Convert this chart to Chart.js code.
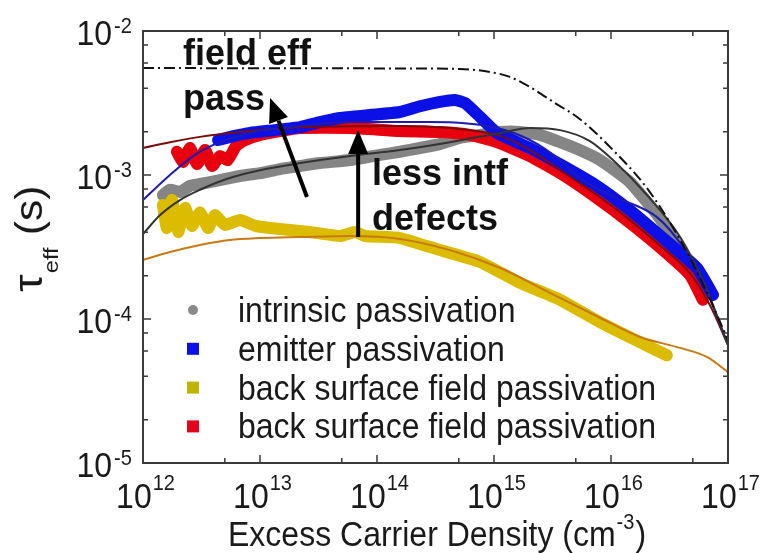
<!DOCTYPE html>
<html>
<head>
<meta charset="utf-8">
<script src="https://cdn.jsdelivr.net/npm/chart.js@4.4.0/dist/chart.umd.min.js"></script>
<style>
  html, body { margin: 0; padding: 0; background: #fff; }
</style>
</head>
<body>
<canvas id="tauChart" width="761" height="553"></canvas>
<script>
// --- data (excess carrier density in cm^-3, lifetime in s) ---
const intrinsicN   = [1.48e12, 1.7e12, 2.07e12, 2.52e12, 3.07e12, 4.55e12, 6.75e12, 1.0e13, 1.48e13, 2.2e13, 3.25e13, 5.9e13, 1.06e14, 1.57e14, 2.33e14, 3.45e14, 5.1e14, 7.6e14, 1.13e15, 1.67e15, 2.47e15, 3.67e15, 5.4e15, 8.05e15, 1.45e16, 2.62e16, 3.9e16, 4.73e16];
const intrinsicTau = [7.26e-4, 7.9e-4, 7.62e-4, 8.4e-4, 8.66e-4, 9.2e-4, 9.84e-4, 1.03e-3, 1.1e-3, 1.155e-3, 1.21e-3, 1.27e-3, 1.38e-3, 1.45e-3, 1.54e-3, 1.64e-3, 1.81e-3, 1.9e-3, 1.99e-3, 1.99e-3, 1.9e-3, 1.69e-3, 1.49e-3, 1.27e-3, 8.93e-4, 5.0e-4, 3.0e-4, 2.12e-4];
const intrinsicFitN   = [1e12, 1.4e12, 2.07e12, 3.07e12, 5.5e12, 1e13, 2.2e13, 5.9e13, 1.57e14, 4.2e14, 1.13e15, 2.03e15, 3.67e15, 6.6e15, 1.04e16, 2.03e16, 3.9e16, 6.35e16, 1e17];
const intrinsicFitTau = [3.89e-4, 5.27e-4, 6.7e-4, 7.9e-4, 9.53e-4, 1.08e-3, 1.21e-3, 1.355e-3, 1.49e-3, 1.69e-3, 1.96e-3, 2.12e-3, 2.05e-3, 1.72e-3, 1.27e-3, 7.26e-4, 3.71e-4, 1.72e-4, 6.6e-5];

const emitterN   = [4.38e12, 6.1e12, 8.2e12, 1.34e13, 2.2e13, 3.25e13, 4.83e13, 8.7e13, 1.57e14, 2.33e14, 3.45e14, 4.64e14, 5.65e14, 7.6e14, 1.06e15, 2.03e15, 3.9e15, 7.6e15, 1.45e16, 2.78e16, 5.43e16, 7.45e16];
const emitterTau = [1.75e-3, 1.87e-3, 1.96e-3, 2.05e-3, 2.15e-3, 2.33e-3, 2.49e-3, 2.61e-3, 2.74e-3, 3.0e-3, 3.22e-3, 3.32e-3, 3.16e-3, 2.53e-3, 1.96e-3, 1.54e-3, 1.155e-3, 8.4e-4, 5.7e-4, 3.65e-4, 2.26e-4, 1.47e-4];
const emitterFitN   = [1e12, 1.7e12, 2.78e12, 4.38e12, 8.2e12, 2.2e13, 5.9e13, 2.84e14, 1.06e15, 2.03e15, 3.67e15, 5.4e15, 9.8e15, 2.47e16, 3.9e16, 5.76e16, 1e17];
const emitterFitTau = [6.7e-4, 1.0e-3, 1.38e-3, 1.67e-3, 1.96e-3, 2.19e-3, 2.33e-3, 2.33e-3, 2.12e-3, 1.75e-3, 1.27e-3, 9.53e-4, 7.26e-4, 5.1e-4, 3.37e-4, 2.02e-4, 6.6e-5];

const bsfGoldN   = [1.48e12, 1.6e12, 1.77e12, 2.0e12, 2.29e12, 2.62e12, 3.07e12, 3.6e12, 4.12e12, 5.0e12, 6.75e12, 9.1e12, 1.22e13, 1.8e13, 2.67e13, 4.83e13, 6.5e13, 7.9e13, 1.57e14, 3.45e14, 7.6e14, 1.67e15, 3.67e15, 8.05e15, 1.77e16, 3.0e16];
const bsfGoldTau = [6.2e-4, 4.28e-4, 6.7e-4, 4.02e-4, 5.9e-4, 4.43e-4, 5.5e-4, 4.28e-4, 5.27e-4, 4.5e-4, 4.87e-4, 4.43e-4, 4.28e-4, 4.15e-4, 4.02e-4, 3.77e-4, 4.02e-4, 3.77e-4, 3.65e-4, 3.01e-4, 2.49e-4, 1.78e-4, 1.36e-4, 9.5e-5, 6.9e-5, 5.6e-5];
const bsfGoldFitN   = [1e12, 1.7e12, 3.07e12, 5.5e12, 1e13, 2.2e13, 5.9e13, 1.57e14, 4.2e14, 1.13e15, 3.0e15, 8.05e15, 1.77e16, 3.9e16, 6.6e16, 1e17];
const bsfGoldFitTau = [2.57e-4, 2.92e-4, 3.27e-4, 3.54e-4, 3.65e-4, 3.71e-4, 3.77e-4, 3.6e-4, 3.01e-4, 2.26e-4, 1.52e-4, 1.02e-4, 7.5e-5, 6.3e-5, 5.45e-5, 4.28e-5];

const bsfRedN   = [1.95e12, 2.2e12, 2.52e12, 2.9e12, 3.39e12, 3.89e12, 4.55e12, 5.3e12, 6.24e12, 7.45e12, 1e13, 1.48e13, 2.2e13, 5.9e13, 1.57e14, 3.45e14, 6.2e14, 1.06e15, 2.03e15, 3.9e15, 7.6e15, 1.45e16, 2.78e16, 4.73e16, 6.1e16];
const bsfRedTau = [1.45e-3, 1.23e-3, 1.54e-3, 1.19e-3, 1.49e-3, 1.155e-3, 1.355e-3, 1.27e-3, 1.59e-3, 1.75e-3, 1.9e-3, 2.02e-3, 2.12e-3, 2.12e-3, 2.02e-3, 1.99e-3, 1.9e-3, 1.69e-3, 1.355e-3, 1.0e-3, 6.9e-4, 4.65e-4, 3.01e-4, 2.02e-4, 1.36e-4];
const bsfRedFitN   = [1e12, 1.7e12, 3.07e12, 6.75e12, 2.2e13, 1.57e14, 4.2e14, 1.13e15, 2.03e15, 3.9e15, 7.6e15, 1.45e16, 2.78e16, 4.73e16, 7.0e16, 1e17];
const bsfRedFitTau = [1.54e-3, 1.69e-3, 1.84e-3, 1.99e-3, 2.15e-3, 2.19e-3, 2.12e-3, 1.87e-3, 1.49e-3, 1.05e-3, 7.26e-4, 4.87e-4, 3.11e-4, 2.08e-4, 1.25e-4, 6.6e-5];

const fieldEffN   = [1e12, 1e14, 5.1e14, 9.25e14, 1.37e15, 2.03e15, 3.32e15, 5.4e15, 1.04e16, 2.03e16, 3.9e16, 6.35e16, 1e17];
const fieldEffTau = [5.53e-3, 5.5e-3, 5.45e-3, 5.19e-3, 4.8e-3, 4.08e-3, 3.16e-3, 2.45e-3, 1.49e-3, 8.1e-4, 3.54e-4, 1.64e-4, 7.15e-5];

const seriesLabels = ['intrinsic passivation', 'emitter passivation', 'back surface field passivation', 'back surface field passivation'];

// axis ticks
const xDecades = [1e12, 1e13, 1e14, 1e15, 1e16, 1e17];
const xDecadeLabels = ['12', '13', '14', '15', '16', '17'];
const xMinor = [5e12, 5e13, 5e14, 5e15, 5e16];
const yDecades = [1e-5, 1e-4, 1e-3, 1e-2];
const yDecadeLabels = ['-5', '-4', '-3', '-2'];
const yMinor = [2e-5, 4e-5, 6e-5, 8e-5, 2e-4, 4e-4, 6e-4, 8e-4, 2e-3, 4e-3, 6e-3, 8e-3];

// annotations (data coordinates)
const noteText = ['field eff', 'pass', 'less intf', 'defects'];
const noteN    = [2.2e12, 2.2e12, 9.06e13, 9.06e13];
const noteTau  = [5.8e-3, 2.82e-3, 8.53e-4, 4.15e-4];
const arrowFromN = [2.52e13, 6.9e13];
const arrowFromTau = [7.03e-4, 3.71e-4];
const arrowToN = [1.22e13, 6.9e13];
const arrowToTau = [3.42e-3, 2.05e-3];

const FONT = '"Liberation Sans", Arial, sans-serif';
const STRETCH = 1.12;

function pts(xs, ys) {
    return xs.map((x, i) => ({ x: x, y: ys[i] }));
}

function band(label, xs, ys, color, order) {
    return { label: label, data: pts(xs, ys), showLine: true, borderColor: color, backgroundColor: color,
             borderWidth: 12, borderCapStyle: 'round', borderJoinStyle: 'round', pointRadius: 0, tension: 0.15, order: order };
}

function fitLine(xs, ys, color, order) {
    return { label: '', data: pts(xs, ys), showLine: true, borderColor: color, borderWidth: 2,
             pointRadius: 0, cubicInterpolationMode: 'monotone', order: order };
}

function txt(ctx, s, x, y, font, align, sy) {
    ctx.save();
    ctx.translate(x, y);
    ctx.scale(1, sy || STRETCH);
    ctx.font = font;
    ctx.textAlign = align || 'left';
    ctx.textBaseline = 'alphabetic';
    ctx.fillText(s, 0, 0);
    ctx.restore();
}

const legendColors = ['#8a8a8a', '#0a10e6', '#bfb400', '#e6001c'];

const decorPlugin = {
    id: 'decor',
    afterDatasetsDraw(chart) {
        const ctx = chart.ctx, xs = chart.scales.x, ys = chart.scales.y;
        ctx.save();
        // arrows
        ctx.fillStyle = '#000';
        ctx.strokeStyle = '#000';
        ctx.lineWidth = 4;
        for (let i = 0; i < arrowFromN.length; i++) {
            const x0 = xs.getPixelForValue(arrowFromN[i]), y0 = ys.getPixelForValue(arrowFromTau[i]);
            const x1 = xs.getPixelForValue(arrowToN[i]), y1 = ys.getPixelForValue(arrowToTau[i]);
            const ang = Math.atan2(y1 - y0, x1 - x0);
            const hl = 24, hw = 10;
            const bx = x1 - hl * Math.cos(ang), by = y1 - hl * Math.sin(ang);
            ctx.beginPath();
            ctx.moveTo(x0, y0);
            ctx.lineTo(bx, by);
            ctx.stroke();
            ctx.beginPath();
            ctx.moveTo(x1, y1);
            ctx.lineTo(bx + hw * Math.sin(ang), by - hw * Math.cos(ang));
            ctx.lineTo(bx - hw * Math.sin(ang), by + hw * Math.cos(ang));
            ctx.closePath();
            ctx.fill();
        }
        // bold notes
        ctx.fillStyle = '#111';
        noteText.forEach((t, i) => {
            txt(ctx, t, xs.getPixelForValue(noteN[i]), ys.getPixelForValue(noteTau[i]), 'bold 36px ' + FONT, 'left', 1.05);
        });
        // legend
        const lx = 193, ly = 310, gap = 38.8;
        seriesLabels.forEach((lab, i) => {
            const cy = ly + i * gap;
            ctx.fillStyle = legendColors[i];
            if (i === 0) {
                ctx.beginPath();
                ctx.arc(lx, cy, 5, 0, Math.PI * 2);
                ctx.fill();
            } else {
                ctx.fillRect(lx - 6, cy - 6, 12, 12);
            }
            ctx.fillStyle = '#1a1a1a';
            txt(ctx, lab, 238, cy + 12, '32px ' + FONT, 'left');
        });
        ctx.restore();
    },
    afterDraw(chart) {
        const ctx = chart.ctx, xs = chart.scales.x, ys = chart.scales.y, a = chart.chartArea;
        ctx.save();
        ctx.strokeStyle = '#3a3a3a';
        ctx.lineWidth = 2;
        ctx.strokeRect(a.left, a.top, a.right - a.left, a.bottom - a.top);
        ctx.lineWidth = 1.5;
        const tick = (vals, len, horiz) => {
            vals.forEach(v => {
                ctx.beginPath();
                if (horiz) {
                    const px = xs.getPixelForValue(v);
                    if (px <= a.left + 1 || px >= a.right - 1) return;
                    ctx.moveTo(px, a.bottom); ctx.lineTo(px, a.bottom - len);
                    ctx.moveTo(px, a.top); ctx.lineTo(px, a.top + len);
                } else {
                    const py = ys.getPixelForValue(v);
                    if (py <= a.top + 1 || py >= a.bottom - 1) return;
                    ctx.moveTo(a.left, py); ctx.lineTo(a.left + len, py);
                    ctx.moveTo(a.right, py); ctx.lineTo(a.right - len, py);
                }
                ctx.stroke();
            });
        };
        tick(xDecades, 8, true);
        tick(xMinor, 5, true);
        tick(yDecades, 8, false);
        tick(yMinor, 5, false);

        ctx.fillStyle = '#1a1a1a';
        const big = '32px ' + FONT, small = '20px ' + FONT;
        // x tick labels
        xDecades.forEach((v, i) => {
            const px = xs.getPixelForValue(v);
            ctx.font = big;
            const w1 = ctx.measureText('10').width;
            ctx.font = small;
            const w2 = ctx.measureText(xDecadeLabels[i]).width;
            const x0 = px - (w1 + w2) / 2 + 2;
            txt(ctx, '10', x0, a.bottom + 45, big);
            txt(ctx, xDecadeLabels[i], x0 + w1 + 1, a.bottom + 27, small);
        });
        // y tick labels
        yDecades.forEach((v, i) => {
            const py = ys.getPixelForValue(v);
            txt(ctx, '10', 112, py + 14, big, 'right');
            txt(ctx, yDecadeLabels[i], 114, py + 2, small);
        });
        // x title
        ctx.font = big;
        const xt = 'Excess Carrier Density (cm';
        const wt = ctx.measureText(xt).width;
        txt(ctx, xt, 228, 546, big);
        ctx.font = small;
        const ws = ctx.measureText('-3').width;
        txt(ctx, '-3', 228 + wt + 1, 529, small);
        txt(ctx, ')', 228 + wt + ws + 2, 546, big);
        // y title
        ctx.save();
        ctx.translate(42, 292);
        ctx.rotate(-Math.PI / 2);
        ctx.scale(STRETCH, 1);
        ctx.font = '40px ' + FONT;
        ctx.fillText('\u03c4', 0, 0);
        const wtau = ctx.measureText('\u03c4').width;
        ctx.font = '21px ' + FONT;
        ctx.fillText('eff', wtau + 1, 16);
        const weff = ctx.measureText('eff').width;
        ctx.font = '38px ' + FONT;
        ctx.fillText('(s)', wtau + weff + 12, 0);
        ctx.restore();
        ctx.restore();
    }
};

const ctx = document.getElementById('tauChart').getContext('2d');
const chart = new Chart(ctx, {
    type: 'scatter',
    data: {
        datasets: [
            { label: 'field eff', data: pts(fieldEffN, fieldEffTau), showLine: true, borderColor: '#111', borderWidth: 2,
              borderDash: [11, 4, 2, 4], pointRadius: 0, cubicInterpolationMode: 'monotone', order: 0 },
            fitLine(intrinsicFitN, intrinsicFitTau, '#333333', 1),
            fitLine(emitterFitN, emitterFitTau, '#1c1cb4', 1),
            fitLine(bsfRedFitN, bsfRedFitTau, '#7a0c0c', 1),
            fitLine(bsfGoldFitN, bsfGoldFitTau, '#c77a12', 1),
            band(seriesLabels[1], emitterN, emitterTau, '#0a10e6', 5),
            band(seriesLabels[3], bsfRedN, bsfRedTau, '#e8000e', 6),
            band(seriesLabels[2], bsfGoldN, bsfGoldTau, '#dcbc00', 7),
            band(seriesLabels[0], intrinsicN, intrinsicTau, '#858585', 8)
        ]
    },
    options: {
        responsive: false,
        animation: false,
        devicePixelRatio: 1,
        layout: { padding: { left: 143, right: 33, top: 31, bottom: 90 } },
        plugins: { legend: { display: false }, tooltip: { enabled: false } },
        scales: {
            x: { type: 'logarithmic', min: 1e12, max: 1e17, display: false },
            y: { type: 'logarithmic', min: 1e-5, max: 1e-2, display: false }
        }
    },
    plugins: [decorPlugin]
});
</script>
</body>
</html>
